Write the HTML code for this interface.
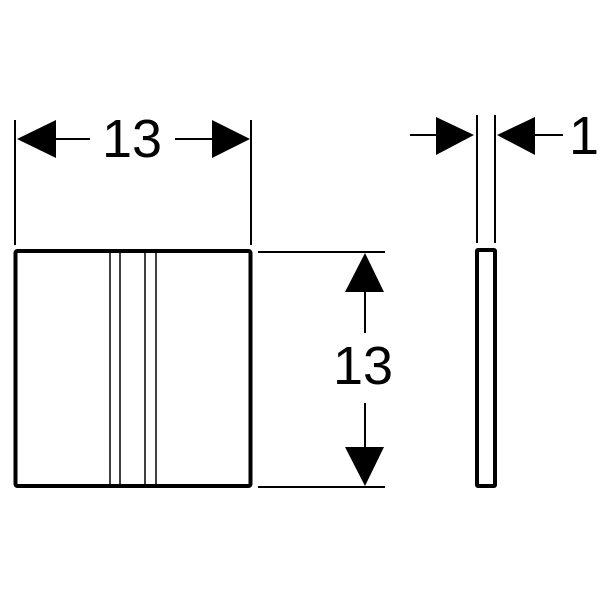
<!DOCTYPE html>
<html><head><style>body{margin:0;background:#fff}svg{display:block}</style></head>
<body>
<svg width="603" height="603" viewBox="0 0 603 603" xmlns="http://www.w3.org/2000/svg">
<g stroke="#000" fill="none">
<rect x="15.5" y="251" width="235" height="235" stroke-width="4" rx="2"/>
<line x1="110" y1="251" x2="110" y2="486" stroke-width="1.5"/>
<line x1="120" y1="251" x2="120" y2="486" stroke-width="1.5"/>
<line x1="145" y1="251" x2="145" y2="486" stroke-width="1.5"/>
<line x1="156" y1="251" x2="156" y2="486" stroke-width="1.5"/>
<line x1="15" y1="120" x2="15" y2="245" stroke-width="2"/>
<line x1="251" y1="120" x2="251" y2="245" stroke-width="2"/>
<line x1="56" y1="139" x2="90" y2="139" stroke-width="2"/>
<line x1="175" y1="139" x2="212" y2="139" stroke-width="2"/>
<line x1="258" y1="252" x2="385" y2="252" stroke-width="2"/>
<line x1="258" y1="487" x2="385" y2="487" stroke-width="2"/>
<line x1="365" y1="292" x2="365" y2="333" stroke-width="2"/>
<line x1="365" y1="403" x2="365" y2="447" stroke-width="2"/>
<rect x="477" y="250" width="18" height="236" stroke-width="4" rx="1"/>
<line x1="477" y1="115" x2="477" y2="243" stroke-width="2"/>
<line x1="495" y1="115" x2="495" y2="243" stroke-width="2"/>
<line x1="410" y1="135" x2="436" y2="135" stroke-width="2"/>
<line x1="535" y1="135" x2="563" y2="135" stroke-width="2"/>
</g>
<g fill="#000">
<polygon points="17,139 56,120 56,158"/>
<polygon points="250,139 212,120 212,158"/>
<polygon points="365,253 345,292 384,292"/>
<polygon points="365,486 345,447 384,447"/>
<polygon points="474,135 436,117 436,155"/>
<polygon points="497,135 535,117 535,155"/>
</g>
<g font-family="Liberation Sans, sans-serif" font-size="54" fill="#000" text-anchor="middle">
<text x="132" y="157">13</text>
<text x="363" y="384">13</text>
<text x="584" y="154">1</text>
</g>
</svg>
</body></html>
